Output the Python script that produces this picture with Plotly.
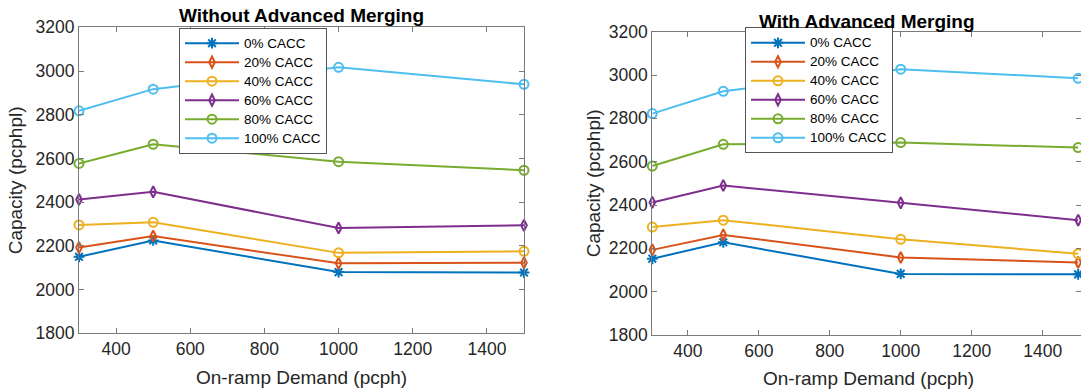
import plotly.graph_objects as go

# On-ramp demand (pcph) at which capacity was measured
demand = [300, 500, 1000, 1500]

series_names = ["0% CACC", "20% CACC", "40% CACC", "60% CACC", "80% CACC", "100% CACC"]

# Capacity (pcphpl) without advanced merging
without_0 = [2150, 2225, 2080, 2078]
without_20 = [2192, 2245, 2120, 2123]
without_40 = [2296, 2308, 2168, 2175]
without_60 = [2412, 2447, 2282, 2294]
without_80 = [2577, 2665, 2585, 2546]
without_100 = [2818, 2917, 3017, 2939]

# Capacity (pcphpl) with advanced merging
with_0 = [2152, 2228, 2082, 2080]
with_20 = [2193, 2262, 2158, 2135]
with_40 = [2298, 2330, 2242, 2175]
with_60 = [2412, 2490, 2410, 2330]
with_80 = [2580, 2680, 2688, 2665]
with_100 = [2822, 2925, 3027, 2985]

y_ticks = [1800, 2000, 2200, 2400, 2600, 2800, 3000, 3200]
x_ticks = [400, 600, 800, 1000, 1200, 1400]

colors = ["#0072BD", "#D95319", "#EDB120", "#7E2F8E", "#77AC30", "#4DBEEE"]
symbols = ["asterisk-open", "diamond-tall-open", "circle-open",
           "diamond-tall-open", "circle-open", "circle-open"]
sizes = [9, 8, 9, 8, 9, 9]

FONT = "Liberation Sans, Arial, Helvetica, sans-serif"
W, H = 1081, 390

fig = go.Figure()

panels = [
    ([without_0, without_20, without_40, without_60, without_80, without_100], "x", "y", "legend"),
    ([with_0, with_20, with_40, with_60, with_80, with_100], "x2", "y2", "legend2"),
]
for values, xa, ya, leg in panels:
    for name, vals, c, sym, sz in zip(series_names, values, colors, symbols, sizes):
        fig.add_trace(go.Scatter(
            x=demand, y=vals, mode="lines+markers",
            # entry text is set a little larger than the compact legend row pitch
            name='<span style="font-size:13.5px">%s</span>' % name,
            xaxis=xa, yaxis=ya, legend=leg, cliponaxis=False,
            line=dict(color=c, width=2),
            marker=dict(symbol=sym, size=sz, color=c, line=dict(color=c, width=2)),
        ))

axis_common = dict(
    showgrid=False, zeroline=False, showline=True, linecolor="#7a7a7a", linewidth=1,
    mirror="ticks", ticks="inside", ticklen=5, tickcolor="#7a7a7a", automargin=False,
    tickfont=dict(family=FONT, size=17.5, color="#262626"),
)
title_font = dict(family=FONT, size=19, color="#262626")

legend_common = dict(
    xanchor="left", yanchor="top", bgcolor="white", bordercolor="#555555", borderwidth=1,
    font=dict(family=FONT, size=11.2, color="black"), itemwidth=54, tracegroupgap=0,
)


def label(text, x_px, y_px, angle=0, bold=False, color="#262626"):
    return dict(text="<b>%s</b>" % text if bold else text, xref="paper", yref="paper",
                x=x_px / W, y=1 - y_px / H, xanchor="center", yanchor="middle",
                textangle=angle, showarrow=False,
                font=dict(family=FONT, size=19, color=color))


fig.update_layout(
    width=W, height=H,
    margin=dict(l=0, r=0, t=0, b=0, pad=0, autoexpand=False),
    paper_bgcolor="white", plot_bgcolor="white",
    showlegend=True,
    xaxis=dict(domain=[79 / W, 524 / W], range=[300, 1500], tickvals=x_ticks,
               anchor="y", **axis_common),
    yaxis=dict(domain=[(H - 333.3) / H, (H - 27.3) / H], range=[1800, 3200], tickvals=y_ticks,
               anchor="x", **axis_common),
    xaxis2=dict(domain=[652.3 / W, 1.0], range=[300, 1508], tickvals=x_ticks,
                anchor="y2", **axis_common),
    yaxis2=dict(domain=[(H - 335) / H, (H - 31.7) / H], range=[1800, 3200], tickvals=y_ticks,
                anchor="x2", **axis_common),
    legend=dict(x=179 / W, y=1 - 27.7 / H, **legend_common),
    legend2=dict(x=745 / W, y=1 - 27.3 / H, **legend_common),
    annotations=[
        label("Without Advanced Merging", 301.5, 15.5, bold=True, color="black"),
        label("With Advanced Merging", 867, 21, bold=True, color="black"),
        label("On-ramp Demand (pcph)", 301.5, 377),
        label("On-ramp Demand (pcph)", 868, 378),
        label("Capacity (pcphpl)", 15, 180.3, angle=-90),
        label("Capacity (pcphpl)", 593, 183.3, angle=-90),
    ],
)

fig.write_html("out.html")
